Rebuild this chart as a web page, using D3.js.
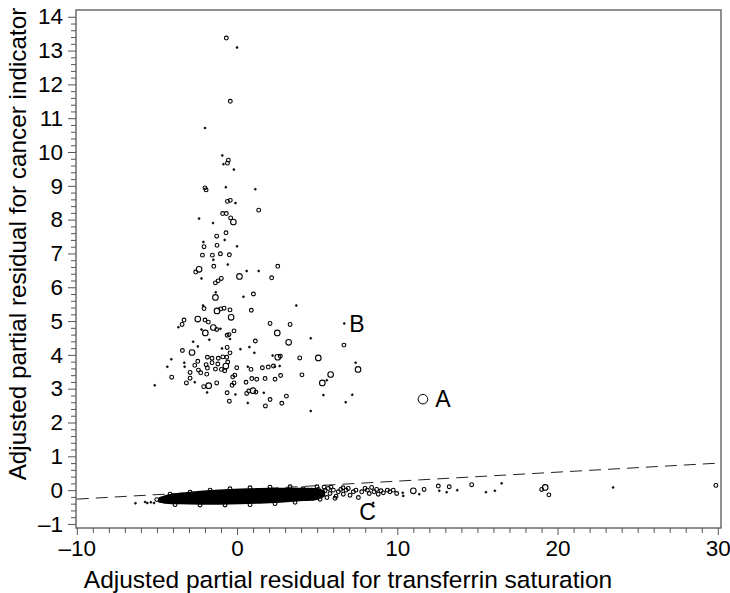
<!DOCTYPE html>
<html>
<head>
<meta charset="utf-8">
<script src="https://cdn.jsdelivr.net/npm/d3@7"></script>
<style>
  html, body { margin: 0; padding: 0; background: #fff; }
  svg { display: block; font-family: "Liberation Sans", Arial, Helvetica, sans-serif; }
</style>
</head>
<body>
<svg id="chart" width="730" height="593"></svg>
<script>
// Residual pairs for the cancer cases (upper cloud); size code 1 = dot, 2 = small, 3 = large ring
const caseX = [-0.67,0.0,-0.42,-2.0,-0.92,-0.54,-0.85,-0.6,-0.2,-2.0,-1.93,-0.7,1.14,-0.6,-0.42,-0.1,1.35,-0.9,-0.67,-2.37,
  -1.5,-0.4,-0.23,-0.69,-1.27,-0.77,-2.1,-2.06,-1.25,0.0,-2.16,-1.54,-1.04,-0.48,-1.48,-0.58,-1.45,2.54,-2.37,-2.58,
  -2.22,0.6,1.35,0.15,2.16,-0.98,-1.18,-1.35,-1.33,-1.35,1.02,0.4,-2.12,-2.06,-1.25,-1.02,-0.81,-0.44,0.89,-0.37,
  -3.31,-3.43,-3.66,-2.45,-2.0,-1.79,-1.48,-1.27,-1.04,-0.19,-2.22,-1.98,-1.73,-0.62,-0.5,-0.44,1.14,2.06,2.51,-2.74,
  -2.45,-3.41,-2.81,-0.94,-0.62,0.21,0.77,1.08,-0.44,-0.89,-0.64,-1.17,-1.56,-1.85,-4.1,-4.35,-4.08,-5.14,-3.29,-3.27,
  -2.64,-2.45,-1.93,-1.56,-1.2,-0.7,-0.58,-0.02,0.67,0.87,1.58,1.95,2.27,2.54,-2.93,-2.41,-2.27,-1.89,-1.85,-1.35,
  -0.98,-0.77,-0.27,-0.14,0.56,0.92,1.23,1.75,2.37,-3.16,-2.93,-2.64,-2.08,-1.77,-1.27,-1.87,-0.62,-0.31,-0.19,-0.1,
  0.6,0.73,1.0,1.18,1.67,-0.48,0.67,1.77,3.7,3.31,6.69,3.22,4.6,6.67,2.22,2.7,3.91,5.07,2.35,2.66,
  7.4,7.55,2.72,4.05,5.84,5.32,5.6,3.08,5.39,7.19,2.79,6.78,4.6,2.06];
const caseY = [13.37,13.09,11.5,10.71,9.9,9.76,9.64,9.67,9.48,8.94,8.88,8.96,8.9,8.54,8.57,8.49,8.28,8.18,8.18,8.03,
  7.9,8.05,7.93,7.61,7.51,7.4,7.34,7.2,7.24,7.21,6.95,6.95,6.99,6.96,6.81,6.67,6.62,6.62,6.53,6.45,
  6.26,6.48,6.48,6.32,6.28,6.26,6.19,6.13,5.85,5.7,5.8,5.72,5.46,5.37,5.3,5.36,5.38,5.33,5.32,5.11,
  5.03,4.9,4.82,5.06,5.03,4.97,4.81,4.75,4.77,4.71,4.75,4.65,4.45,4.58,4.6,4.47,4.41,4.93,4.65,4.39,
  4.25,4.13,4.07,4.19,4.22,4.17,4.23,4.06,4.06,3.94,3.93,3.9,3.9,3.93,3.87,3.65,3.34,3.1,3.77,3.65,
  3.69,3.81,3.71,3.77,3.73,3.67,3.79,3.62,3.65,3.57,3.62,3.64,3.67,3.93,3.48,3.55,3.47,3.43,3.61,3.58,
  3.57,3.53,3.35,3.4,3.19,3.3,3.28,3.3,3.28,3.17,3.31,3.19,3.06,3.09,3.17,2.89,2.88,3.1,3.17,2.83,
  2.86,2.93,2.94,2.9,2.88,2.63,2.58,2.49,5.46,4.9,4.93,4.37,4.49,4.29,3.98,3.96,3.91,3.91,3.65,3.67,
  3.77,3.57,3.39,3.41,3.42,3.17,3.25,2.78,2.81,2.82,2.57,2.6,2.34,2.68];
const caseSize = [2,1,2,1,1,2,1,2,1,2,2,1,1,2,2,1,2,2,2,1,
  1,2,3,2,2,1,1,2,2,1,2,2,2,2,1,1,2,2,3,2,
  1,1,1,3,2,2,2,2,1,3,2,1,1,2,3,2,2,2,2,3,
  2,2,1,3,2,2,3,2,1,2,1,3,1,2,2,1,2,2,3,1,
  1,2,3,1,2,1,1,1,2,2,2,2,2,2,1,1,2,1,1,1,
  2,2,2,2,2,3,2,2,1,2,2,2,2,3,2,2,2,2,2,2,
  2,2,2,2,2,2,2,2,2,2,2,1,2,3,2,1,2,2,2,1,
  2,2,3,2,1,2,1,2,1,2,1,3,1,2,1,2,2,3,1,1,
  1,3,2,2,3,3,1,2,1,1,2,1,1,2];

// Non-cases: the dense core of the lower band, as lower/upper edges
const coreX    = [-4.9, -4.5, -3.6, -2.3, -1.1, 0.2, 1.4, 2.7, 3.9, 4.9, 5.5];
const coreHigh = [-0.22,-0.15,-0.08,-0.02,0.02,0.05,0.06,0.07,0.07,0.06,-0.02];
const coreLow  = [-0.34,-0.40,-0.42,-0.43,-0.43,-0.42,-0.40,-0.37,-0.33,-0.30,-0.18];

// Non-cases outside the dense core
const bandX = [-6.34,-5.74,-5.6,-5.38,-5.18,-5.01,-4.8,
  -4.18,-2.93,-1.68,-0.44,0.81,2.06,3.31,-3.87,-2.31,-0.75,0.81,2.37,3.62,
  4.12,4.3,4.49,4.74,4.99,5.18,5.43,5.61,5.86,6.11,6.61,
  4.66,4.87,5.07,5.28,5.49,5.7,5.8,6.01,6.18,6.32,6.47,6.63,6.8,6.94,7.05,7.26,7.42,7.57,7.78,7.99,
  8.13,8.25,8.4,8.55,8.71,8.81,8.98,9.13,9.38,9.54,9.75,9.96,8.5,
  10.34,10.37,11.0,11.37,11.67,12.56,12.62,13.24,13.08,13.74,14.64,15.53,16.09,16.51,19.01,19.23,19.46,23.47,29.88];
const bandY = [-0.39,-0.35,-0.38,-0.36,-0.38,-0.28,-0.31,
  -0.12,-0.06,0.0,0.04,0.07,0.09,0.1,-0.43,-0.44,-0.44,-0.43,-0.4,-0.36,
  0.04,-0.21,-0.06,-0.24,0.1,-0.27,0.09,-0.22,0.09,-0.24,0.07,
  0.0,-0.1,0.02,-0.15,-0.02,0.05,-0.1,0.0,-0.18,-0.05,0.02,-0.12,0.0,0.05,-0.15,-0.05,0.0,-0.22,-0.05,0.05,
  0.0,-0.1,0.08,-0.05,0.02,-0.12,-0.02,-0.08,0.0,-0.05,0.0,-0.1,-0.38,
  -0.08,-0.17,-0.02,-0.12,0.02,0.12,-0.02,0.1,-0.06,0.0,0.16,-0.06,-0.02,0.2,0.02,0.08,-0.14,0.08,0.14];
const bandSize = [1,1,1,1,1,2,2,
  2,2,2,2,2,2,2,2,2,2,2,2,2,
  2,2,2,2,2,2,2,2,2,2,2,
  2,2,2,2,2,2,2,2,2,2,2,2,2,2,2,2,2,2,2,2,
  2,2,2,2,2,2,2,2,2,2,2,2,1,
  1,1,3,1,2,2,1,2,1,1,2,1,1,1,2,3,2,1,2];

// Highlighted observations
const pointA = { x: 11.6, y: 2.69 };
const labelNames = ["A", "B", "C"];
const labelX = [12.85, 7.48, 8.15];
const labelY = [2.69, 4.91, -0.65];

// Reference line through the non-cases
const lineX = [-10, 30];
const lineSlope = 0.0266;

// Axis ticks
const xMajor = [-10, 0, 10, 20, 30];
const yMajor = [-1,0,1,2,3,4,5,6,7,8,9,10,11,12,13,14];

const svg = d3.select("#chart");
const mLeft = 76, mRight = 721, mTop = 10, mBottom = 528;

const x = d3.scaleLinear().domain([-10.05, 30.2]).range([mLeft, mRight]);
const y = d3.scaleLinear().domain([-1.12, 14.2]).range([mBottom, mTop]);

const frameColor = "#555";
const fmt = v => (v < 0 ? "\u2013" + Math.abs(v) : String(v));

// X axis: major every 10, minor every 1
const xMinor = d3.range(-10, 31, 1).filter(v => !xMajor.includes(v));
const xAxisMinor = d3.axisBottom(x).tickValues(xMinor).tickSize(5).tickFormat("");
const xAxis = d3.axisBottom(x).tickValues(xMajor).tickSize(7).tickPadding(5).tickFormat(fmt);
const gx1 = svg.append("g").attr("transform", `translate(0,${mBottom})`).call(xAxisMinor);
const gx2 = svg.append("g").attr("transform", `translate(0,${mBottom})`).call(xAxis);

// Y axis: major every 1, minor every 0.2
const yMinor = d3.range(-1, 14.01, 0.2).map(v => +v.toFixed(1)).filter(v => Math.abs(v - Math.round(v)) > 1e-6);
const yAxisMinor = d3.axisLeft(y).tickValues(yMinor).tickSize(5).tickFormat("");
const yAxis = d3.axisLeft(y).tickValues(yMajor).tickSize(8).tickPadding(5).tickFormat(fmt);
const gy1 = svg.append("g").attr("transform", `translate(${mLeft},0)`).call(yAxisMinor);
const gy2 = svg.append("g").attr("transform", `translate(${mLeft},0)`).call(yAxis);

[gx1, gx2, gy1, gy2].forEach(g => {
  g.select(".domain").remove();
  g.selectAll(".tick line").attr("stroke", frameColor).attr("stroke-width", 1);
  g.selectAll(".tick text").attr("fill", "#000").style("font-size", "22.5px")
    .style("font-family", "'Liberation Sans', Arial, sans-serif");
});

// Frame
svg.append("rect")
  .attr("x", mLeft).attr("y", mTop)
  .attr("width", mRight - mLeft).attr("height", mBottom - mTop)
  .attr("fill", "none").attr("stroke", frameColor).attr("stroke-width", 1.3);

// Axis titles
svg.append("text")
  .attr("x", 348).attr("y", 588)
  .attr("text-anchor", "middle")
  .style("font-size", "24.5px")
  .text("Adjusted partial residual for transferrin saturation");

svg.append("text")
  .attr("transform", "translate(26,244) rotate(-90)")
  .attr("text-anchor", "middle")
  .style("font-size", "24.3px")
  .text("Adjusted partial residual for cancer indicator");

const plot = svg.append("g");

// Dashed reference line
plot.append("line")
  .attr("x1", x(lineX[0])).attr("y1", y(lineSlope * lineX[0]))
  .attr("x2", x(lineX[1])).attr("y2", y(lineSlope * lineX[1]))
  .attr("stroke", "#222").attr("stroke-width", 1)
  .attr("stroke-dasharray", "12,7");

// Dense core of non-cases
const core = coreX.map((v, i) => ({ x: v, lo: coreLow[i], hi: coreHigh[i] }));
plot.append("path")
  .datum(core)
  .attr("d", d3.area().x(d => x(d.x)).y0(d => y(d.lo)).y1(d => y(d.hi)).curve(d3.curveMonotoneX))
  .attr("fill", "#000");

const radius = s => (s === 1 ? 1.0 : s === 2 ? 1.9 : 2.8);

function drawPoints(xs, ys, ss) {
  const pts = xs.map((v, i) => ({ x: v, y: ys[i], s: ss[i] }));
  plot.append("g").selectAll("circle").data(pts).join("circle")
    .attr("cx", d => x(d.x)).attr("cy", d => y(d.y))
    .attr("r", d => radius(d.s))
    .attr("fill", d => (d.s === 1 ? "#000" : "none"))
    .attr("stroke", "#000")
    .attr("stroke-width", d => (d.s === 1 ? 0.6 : 1.1));
}

drawPoints(bandX, bandY, bandSize);
drawPoints(caseX, caseY, caseSize);

// Observation A
plot.append("circle")
  .attr("cx", x(pointA.x)).attr("cy", y(pointA.y)).attr("r", 4.8)
  .attr("fill", "none").attr("stroke", "#000").attr("stroke-width", 1);

// Labels
plot.selectAll("text.lab").data(labelNames).join("text")
  .attr("class", "lab")
  .attr("x", (d, i) => x(labelX[i])).attr("y", (d, i) => y(labelY[i]))
  .attr("text-anchor", "middle").attr("dominant-baseline", "central")
  .style("font-size", "23px")
  .text(d => d);
</script>
</body>
</html>
